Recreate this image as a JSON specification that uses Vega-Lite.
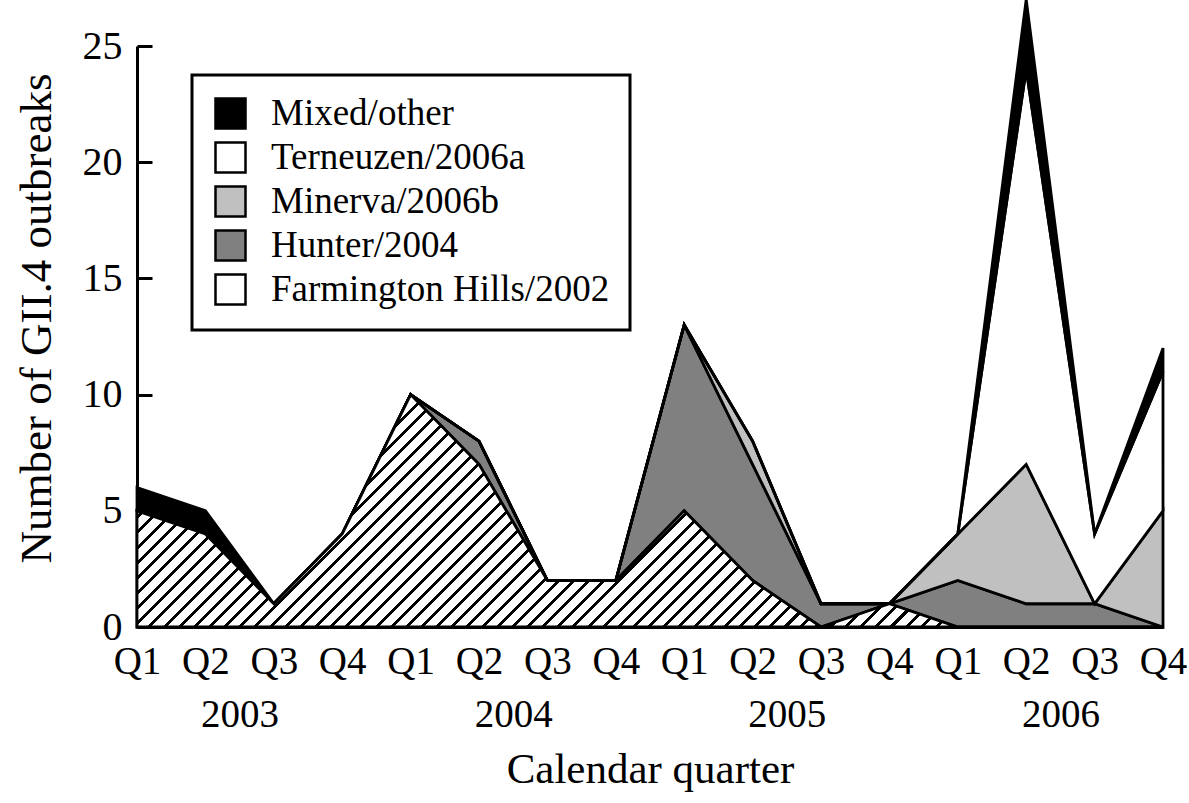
{
  "$schema": "https://vega.github.io/schema/vega-lite/v6.json",
  "width": 1026,
  "height": 581,
  "autosize": {"type": "none"},
  "padding": {"left": 137, "top": 46, "right": 26, "bottom": 176},
  "background": "white",
  "config": {"view": {"stroke": null}, "font": "Liberation Serif"},
  "data": {
    "values": [
      {"t": 2003.0, "s": "Farmington Hills/2002", "k": 1, "n": 5},
      {"t": 2003.25, "s": "Farmington Hills/2002", "k": 1, "n": 4},
      {"t": 2003.5, "s": "Farmington Hills/2002", "k": 1, "n": 1},
      {"t": 2003.75, "s": "Farmington Hills/2002", "k": 1, "n": 4},
      {"t": 2004.0, "s": "Farmington Hills/2002", "k": 1, "n": 10},
      {"t": 2004.25, "s": "Farmington Hills/2002", "k": 1, "n": 7},
      {"t": 2004.5, "s": "Farmington Hills/2002", "k": 1, "n": 2},
      {"t": 2004.75, "s": "Farmington Hills/2002", "k": 1, "n": 2},
      {"t": 2005.0, "s": "Farmington Hills/2002", "k": 1, "n": 5},
      {"t": 2005.25, "s": "Farmington Hills/2002", "k": 1, "n": 2},
      {"t": 2005.5, "s": "Farmington Hills/2002", "k": 1, "n": 0},
      {"t": 2005.75, "s": "Farmington Hills/2002", "k": 1, "n": 1},
      {"t": 2006.0, "s": "Farmington Hills/2002", "k": 1, "n": 0},
      {"t": 2006.25, "s": "Farmington Hills/2002", "k": 1, "n": 0},
      {"t": 2006.5, "s": "Farmington Hills/2002", "k": 1, "n": 0},
      {"t": 2006.75, "s": "Farmington Hills/2002", "k": 1, "n": 0},
      {"t": 2003.0, "s": "Hunter/2004", "k": 2, "n": 0},
      {"t": 2003.25, "s": "Hunter/2004", "k": 2, "n": 0},
      {"t": 2003.5, "s": "Hunter/2004", "k": 2, "n": 0},
      {"t": 2003.75, "s": "Hunter/2004", "k": 2, "n": 0},
      {"t": 2004.0, "s": "Hunter/2004", "k": 2, "n": 0},
      {"t": 2004.25, "s": "Hunter/2004", "k": 2, "n": 1},
      {"t": 2004.5, "s": "Hunter/2004", "k": 2, "n": 0},
      {"t": 2004.75, "s": "Hunter/2004", "k": 2, "n": 0},
      {"t": 2005.0, "s": "Hunter/2004", "k": 2, "n": 8},
      {"t": 2005.25, "s": "Hunter/2004", "k": 2, "n": 5},
      {"t": 2005.5, "s": "Hunter/2004", "k": 2, "n": 1},
      {"t": 2005.75, "s": "Hunter/2004", "k": 2, "n": 0},
      {"t": 2006.0, "s": "Hunter/2004", "k": 2, "n": 2},
      {"t": 2006.25, "s": "Hunter/2004", "k": 2, "n": 1},
      {"t": 2006.5, "s": "Hunter/2004", "k": 2, "n": 1},
      {"t": 2006.75, "s": "Hunter/2004", "k": 2, "n": 0},
      {"t": 2003.0, "s": "Minerva/2006b", "k": 3, "n": 0},
      {"t": 2003.25, "s": "Minerva/2006b", "k": 3, "n": 0},
      {"t": 2003.5, "s": "Minerva/2006b", "k": 3, "n": 0},
      {"t": 2003.75, "s": "Minerva/2006b", "k": 3, "n": 0},
      {"t": 2004.0, "s": "Minerva/2006b", "k": 3, "n": 0},
      {"t": 2004.25, "s": "Minerva/2006b", "k": 3, "n": 0},
      {"t": 2004.5, "s": "Minerva/2006b", "k": 3, "n": 0},
      {"t": 2004.75, "s": "Minerva/2006b", "k": 3, "n": 0},
      {"t": 2005.0, "s": "Minerva/2006b", "k": 3, "n": 0},
      {"t": 2005.25, "s": "Minerva/2006b", "k": 3, "n": 1},
      {"t": 2005.5, "s": "Minerva/2006b", "k": 3, "n": 0},
      {"t": 2005.75, "s": "Minerva/2006b", "k": 3, "n": 0},
      {"t": 2006.0, "s": "Minerva/2006b", "k": 3, "n": 2},
      {"t": 2006.25, "s": "Minerva/2006b", "k": 3, "n": 6},
      {"t": 2006.5, "s": "Minerva/2006b", "k": 3, "n": 0},
      {"t": 2006.75, "s": "Minerva/2006b", "k": 3, "n": 5},
      {"t": 2003.0, "s": "Terneuzen/2006a", "k": 4, "n": 0},
      {"t": 2003.25, "s": "Terneuzen/2006a", "k": 4, "n": 0},
      {"t": 2003.5, "s": "Terneuzen/2006a", "k": 4, "n": 0},
      {"t": 2003.75, "s": "Terneuzen/2006a", "k": 4, "n": 0},
      {"t": 2004.0, "s": "Terneuzen/2006a", "k": 4, "n": 0},
      {"t": 2004.25, "s": "Terneuzen/2006a", "k": 4, "n": 0},
      {"t": 2004.5, "s": "Terneuzen/2006a", "k": 4, "n": 0},
      {"t": 2004.75, "s": "Terneuzen/2006a", "k": 4, "n": 0},
      {"t": 2005.0, "s": "Terneuzen/2006a", "k": 4, "n": 0},
      {"t": 2005.25, "s": "Terneuzen/2006a", "k": 4, "n": 0},
      {"t": 2005.5, "s": "Terneuzen/2006a", "k": 4, "n": 0},
      {"t": 2005.75, "s": "Terneuzen/2006a", "k": 4, "n": 0},
      {"t": 2006.0, "s": "Terneuzen/2006a", "k": 4, "n": 0},
      {"t": 2006.25, "s": "Terneuzen/2006a", "k": 4, "n": 17},
      {"t": 2006.5, "s": "Terneuzen/2006a", "k": 4, "n": 3},
      {"t": 2006.75, "s": "Terneuzen/2006a", "k": 4, "n": 6},
      {"t": 2003.0, "s": "Mixed/other", "k": 5, "n": 1},
      {"t": 2003.25, "s": "Mixed/other", "k": 5, "n": 1},
      {"t": 2003.5, "s": "Mixed/other", "k": 5, "n": 0},
      {"t": 2003.75, "s": "Mixed/other", "k": 5, "n": 0},
      {"t": 2004.0, "s": "Mixed/other", "k": 5, "n": 0},
      {"t": 2004.25, "s": "Mixed/other", "k": 5, "n": 0},
      {"t": 2004.5, "s": "Mixed/other", "k": 5, "n": 0},
      {"t": 2004.75, "s": "Mixed/other", "k": 5, "n": 0},
      {"t": 2005.0, "s": "Mixed/other", "k": 5, "n": 0},
      {"t": 2005.25, "s": "Mixed/other", "k": 5, "n": 0},
      {"t": 2005.5, "s": "Mixed/other", "k": 5, "n": 0},
      {"t": 2005.75, "s": "Mixed/other", "k": 5, "n": 0},
      {"t": 2006.0, "s": "Mixed/other", "k": 5, "n": 0},
      {"t": 2006.25, "s": "Mixed/other", "k": 5, "n": 3},
      {"t": 2006.5, "s": "Mixed/other", "k": 5, "n": 0},
      {"t": 2006.75, "s": "Mixed/other", "k": 5, "n": 1}
    ]
  },
  "resolve": {"axis": {"x": "independent", "y": "independent"}},
  "layer": [
    {
      "mark": {"type": "area", "stroke": "black", "strokeWidth": 2.8, "clip": false, "strokeJoin": "miter"},
      "encoding": {
        "x": {
          "field": "t", "type": "quantitative",
          "scale": {"domain": [2003, 2006.75], "nice": false, "zero": false},
          "axis": {
            "orient": "bottom",
            "values": [2003, 2003.25, 2003.5, 2003.75, 2004, 2004.25, 2004.5, 2004.75, 2005, 2005.25, 2005.5, 2005.75, 2006, 2006.25, 2006.5, 2006.75],
            "labelExpr": "'Q' + (round((datum.value - floor(datum.value)) * 4) + 1)",
            "ticks": false, "grid": false,
            "domainColor": "black", "domainWidth": 3,
            "labelFont": "Liberation Serif", "labelFontSize": 39, "labelColor": "black",
            "labelPadding": 15, "labelFlush": false, "labelOverlap": false, "labelBaseline": "top",
            "title": null
          }
        },
        "y": {
          "field": "n", "type": "quantitative", "stack": "zero",
          "scale": {"domain": [0, 25], "nice": false},
          "axis": {
            "orient": "left",
            "values": [0, 5, 10, 15, 20, 25],
            "grid": false,
            "tickSize": -15, "tickWidth": 3, "tickColor": "black",
            "domainColor": "black", "domainWidth": 3,
            "labelFont": "Liberation Serif", "labelFontSize": 40, "labelColor": "black",
            "labelPadding": 30, "labelBaseline": "middle",
            "title": "Number of GII.4 outbreaks",
            "titleFont": "Liberation Serif", "titleFontSize": 45, "titleFontWeight": "normal", "titleColor": "black",
            "titleAngle": -90, "titleAlign": "center", "titleBaseline": "middle",
            "titleX": -101, "titleY": 272
          }
        },
        "order": {"field": "k", "type": "quantitative"},
        "fill": {
          "field": "s", "type": "nominal",
          "scale": {
            "domain": ["Mixed/other", "Terneuzen/2006a", "Minerva/2006b", "Hunter/2004", "Farmington Hills/2002"],
            "range": ["#000000", "#ffffff", "#c0c0c0", "#808080", "#ffffff"]
          },
          "legend": {
            "orient": "none", "legendX": 55, "legendY": 29, "title": null,
            "fillColor": "white", "strokeColor": "black", "padding": 20,
            "symbolType": "square", "symbolSize": 900, "symbolStrokeColor": "black", "symbolStrokeWidth": 2.5,
            "labelFont": "Liberation Serif", "labelFontSize": 37, "labelColor": "black",
            "labelOffset": 22, "labelLimit": 1000, "rowPadding": 3,
            "encode": {
              "legend": {"update": {"strokeWidth": {"value": 3}}},
              "symbols": {"update": {
                "stroke": {"value": "black"},
                "strokeWidth": {"value": 2.5}
              }}
            }
          }
        }
      }
    },
    {
      "transform": [{"filter": "datum.s === 'Farmington Hills/2002'"}],
      "mark": {"type": "area", "stroke": "black", "strokeWidth": 2.8, "clip": false, "strokeJoin": "miter",
        "fill": {"gradient": "linear", "x1": 0, "y1": 0, "x2": 1.17, "y2": 0.265, "stops": [
{"offset":0,"color":"#000"},{"offset":0.0032,"color":"#000"},{"offset":0.0032,"color":"#fff"},{"offset":0.012,"color":"#fff"},
{"offset":0.012,"color":"#000"},{"offset":0.0152,"color":"#000"},{"offset":0.0152,"color":"#fff"},{"offset":0.024,"color":"#fff"},
{"offset":0.024,"color":"#000"},{"offset":0.0272,"color":"#000"},{"offset":0.0272,"color":"#fff"},{"offset":0.036,"color":"#fff"},
{"offset":0.036,"color":"#000"},{"offset":0.0392,"color":"#000"},{"offset":0.0392,"color":"#fff"},{"offset":0.048,"color":"#fff"},
{"offset":0.048,"color":"#000"},{"offset":0.0512,"color":"#000"},{"offset":0.0512,"color":"#fff"},{"offset":0.06,"color":"#fff"},
{"offset":0.06,"color":"#000"},{"offset":0.0632,"color":"#000"},{"offset":0.0632,"color":"#fff"},{"offset":0.072,"color":"#fff"},
{"offset":0.072,"color":"#000"},{"offset":0.0752,"color":"#000"},{"offset":0.0752,"color":"#fff"},{"offset":0.084,"color":"#fff"},
{"offset":0.084,"color":"#000"},{"offset":0.0872,"color":"#000"},{"offset":0.0872,"color":"#fff"},{"offset":0.096,"color":"#fff"},
{"offset":0.096,"color":"#000"},{"offset":0.0992,"color":"#000"},{"offset":0.0992,"color":"#fff"},{"offset":0.108,"color":"#fff"},
{"offset":0.108,"color":"#000"},{"offset":0.1112,"color":"#000"},{"offset":0.1112,"color":"#fff"},{"offset":0.12,"color":"#fff"},
{"offset":0.12,"color":"#000"},{"offset":0.1232,"color":"#000"},{"offset":0.1232,"color":"#fff"},{"offset":0.132,"color":"#fff"},
{"offset":0.132,"color":"#000"},{"offset":0.1352,"color":"#000"},{"offset":0.1352,"color":"#fff"},{"offset":0.144,"color":"#fff"},
{"offset":0.144,"color":"#000"},{"offset":0.1472,"color":"#000"},{"offset":0.1472,"color":"#fff"},{"offset":0.156,"color":"#fff"},
{"offset":0.156,"color":"#000"},{"offset":0.1592,"color":"#000"},{"offset":0.1592,"color":"#fff"},{"offset":0.168,"color":"#fff"},
{"offset":0.168,"color":"#000"},{"offset":0.1712,"color":"#000"},{"offset":0.1712,"color":"#fff"},{"offset":0.18,"color":"#fff"},
{"offset":0.18,"color":"#000"},{"offset":0.1832,"color":"#000"},{"offset":0.1832,"color":"#fff"},{"offset":0.192,"color":"#fff"},
{"offset":0.192,"color":"#000"},{"offset":0.1952,"color":"#000"},{"offset":0.1952,"color":"#fff"},{"offset":0.204,"color":"#fff"},
{"offset":0.204,"color":"#000"},{"offset":0.2072,"color":"#000"},{"offset":0.2072,"color":"#fff"},{"offset":0.216,"color":"#fff"},
{"offset":0.216,"color":"#000"},{"offset":0.2192,"color":"#000"},{"offset":0.2192,"color":"#fff"},{"offset":0.228,"color":"#fff"},
{"offset":0.228,"color":"#000"},{"offset":0.2312,"color":"#000"},{"offset":0.2312,"color":"#fff"},{"offset":0.24,"color":"#fff"},
{"offset":0.24,"color":"#000"},{"offset":0.2432,"color":"#000"},{"offset":0.2432,"color":"#fff"},{"offset":0.252,"color":"#fff"},
{"offset":0.252,"color":"#000"},{"offset":0.2552,"color":"#000"},{"offset":0.2552,"color":"#fff"},{"offset":0.264,"color":"#fff"},
{"offset":0.264,"color":"#000"},{"offset":0.2672,"color":"#000"},{"offset":0.2672,"color":"#fff"},{"offset":0.276,"color":"#fff"},
{"offset":0.276,"color":"#000"},{"offset":0.2792,"color":"#000"},{"offset":0.2792,"color":"#fff"},{"offset":0.288,"color":"#fff"},
{"offset":0.288,"color":"#000"},{"offset":0.2912,"color":"#000"},{"offset":0.2912,"color":"#fff"},{"offset":0.3,"color":"#fff"},
{"offset":0.3,"color":"#000"},{"offset":0.3032,"color":"#000"},{"offset":0.3032,"color":"#fff"},{"offset":0.312,"color":"#fff"},
{"offset":0.312,"color":"#000"},{"offset":0.3152,"color":"#000"},{"offset":0.3152,"color":"#fff"},{"offset":0.324,"color":"#fff"},
{"offset":0.324,"color":"#000"},{"offset":0.3272,"color":"#000"},{"offset":0.3272,"color":"#fff"},{"offset":0.336,"color":"#fff"},
{"offset":0.336,"color":"#000"},{"offset":0.3392,"color":"#000"},{"offset":0.3392,"color":"#fff"},{"offset":0.348,"color":"#fff"},
{"offset":0.348,"color":"#000"},{"offset":0.3512,"color":"#000"},{"offset":0.3512,"color":"#fff"},{"offset":0.36,"color":"#fff"},
{"offset":0.36,"color":"#000"},{"offset":0.3632,"color":"#000"},{"offset":0.3632,"color":"#fff"},{"offset":0.372,"color":"#fff"},
{"offset":0.372,"color":"#000"},{"offset":0.3752,"color":"#000"},{"offset":0.3752,"color":"#fff"},{"offset":0.384,"color":"#fff"},
{"offset":0.384,"color":"#000"},{"offset":0.3872,"color":"#000"},{"offset":0.3872,"color":"#fff"},{"offset":0.396,"color":"#fff"},
{"offset":0.396,"color":"#000"},{"offset":0.3992,"color":"#000"},{"offset":0.3992,"color":"#fff"},{"offset":0.408,"color":"#fff"},
{"offset":0.408,"color":"#000"},{"offset":0.4112,"color":"#000"},{"offset":0.4112,"color":"#fff"},{"offset":0.42,"color":"#fff"},
{"offset":0.42,"color":"#000"},{"offset":0.4232,"color":"#000"},{"offset":0.4232,"color":"#fff"},{"offset":0.432,"color":"#fff"},
{"offset":0.432,"color":"#000"},{"offset":0.4352,"color":"#000"},{"offset":0.4352,"color":"#fff"},{"offset":0.444,"color":"#fff"},
{"offset":0.444,"color":"#000"},{"offset":0.4472,"color":"#000"},{"offset":0.4472,"color":"#fff"},{"offset":0.456,"color":"#fff"},
{"offset":0.456,"color":"#000"},{"offset":0.4592,"color":"#000"},{"offset":0.4592,"color":"#fff"},{"offset":0.468,"color":"#fff"},
{"offset":0.468,"color":"#000"},{"offset":0.4712,"color":"#000"},{"offset":0.4712,"color":"#fff"},{"offset":0.48,"color":"#fff"},
{"offset":0.48,"color":"#000"},{"offset":0.4832,"color":"#000"},{"offset":0.4832,"color":"#fff"},{"offset":0.492,"color":"#fff"},
{"offset":0.492,"color":"#000"},{"offset":0.4952,"color":"#000"},{"offset":0.4952,"color":"#fff"},{"offset":0.504,"color":"#fff"},
{"offset":0.504,"color":"#000"},{"offset":0.5072,"color":"#000"},{"offset":0.5072,"color":"#fff"},{"offset":0.516,"color":"#fff"},
{"offset":0.516,"color":"#000"},{"offset":0.5192,"color":"#000"},{"offset":0.5192,"color":"#fff"},{"offset":0.528,"color":"#fff"},
{"offset":0.528,"color":"#000"},{"offset":0.5312,"color":"#000"},{"offset":0.5312,"color":"#fff"},{"offset":0.54,"color":"#fff"},
{"offset":0.54,"color":"#000"},{"offset":0.5432,"color":"#000"},{"offset":0.5432,"color":"#fff"},{"offset":0.552,"color":"#fff"},
{"offset":0.552,"color":"#000"},{"offset":0.5552,"color":"#000"},{"offset":0.5552,"color":"#fff"},{"offset":0.564,"color":"#fff"},
{"offset":0.564,"color":"#000"},{"offset":0.5672,"color":"#000"},{"offset":0.5672,"color":"#fff"},{"offset":0.576,"color":"#fff"},
{"offset":0.576,"color":"#000"},{"offset":0.5792,"color":"#000"},{"offset":0.5792,"color":"#fff"},{"offset":0.588,"color":"#fff"},
{"offset":0.588,"color":"#000"},{"offset":0.5912,"color":"#000"},{"offset":0.5912,"color":"#fff"},{"offset":0.6,"color":"#fff"},
{"offset":0.6,"color":"#000"},{"offset":0.6032,"color":"#000"},{"offset":0.6032,"color":"#fff"},{"offset":0.612,"color":"#fff"},
{"offset":0.612,"color":"#000"},{"offset":0.6152,"color":"#000"},{"offset":0.6152,"color":"#fff"},{"offset":0.624,"color":"#fff"},
{"offset":0.624,"color":"#000"},{"offset":0.6272,"color":"#000"},{"offset":0.6272,"color":"#fff"},{"offset":0.636,"color":"#fff"},
{"offset":0.636,"color":"#000"},{"offset":0.6392,"color":"#000"},{"offset":0.6392,"color":"#fff"},{"offset":0.648,"color":"#fff"},
{"offset":0.648,"color":"#000"},{"offset":0.6512,"color":"#000"},{"offset":0.6512,"color":"#fff"},{"offset":0.66,"color":"#fff"},
{"offset":0.66,"color":"#000"},{"offset":0.6632,"color":"#000"},{"offset":0.6632,"color":"#fff"},{"offset":0.672,"color":"#fff"},
{"offset":0.672,"color":"#000"},{"offset":0.6752,"color":"#000"},{"offset":0.6752,"color":"#fff"},{"offset":0.684,"color":"#fff"},
{"offset":0.684,"color":"#000"},{"offset":0.6872,"color":"#000"},{"offset":0.6872,"color":"#fff"},{"offset":0.696,"color":"#fff"},
{"offset":0.696,"color":"#000"},{"offset":0.6992,"color":"#000"},{"offset":0.6992,"color":"#fff"},{"offset":0.708,"color":"#fff"},
{"offset":0.708,"color":"#000"},{"offset":0.7112,"color":"#000"},{"offset":0.7112,"color":"#fff"},{"offset":0.72,"color":"#fff"},
{"offset":0.72,"color":"#000"},{"offset":0.7232,"color":"#000"},{"offset":0.7232,"color":"#fff"},{"offset":0.732,"color":"#fff"},
{"offset":0.732,"color":"#000"},{"offset":0.7352,"color":"#000"},{"offset":0.7352,"color":"#fff"},{"offset":0.744,"color":"#fff"},
{"offset":0.744,"color":"#000"},{"offset":0.7472,"color":"#000"},{"offset":0.7472,"color":"#fff"},{"offset":0.756,"color":"#fff"},
{"offset":0.756,"color":"#000"},{"offset":0.7592,"color":"#000"},{"offset":0.7592,"color":"#fff"},{"offset":0.768,"color":"#fff"},
{"offset":0.768,"color":"#000"},{"offset":0.7712,"color":"#000"},{"offset":0.7712,"color":"#fff"},{"offset":0.78,"color":"#fff"},
{"offset":0.78,"color":"#000"},{"offset":0.7832,"color":"#000"},{"offset":0.7832,"color":"#fff"},{"offset":0.792,"color":"#fff"},
{"offset":0.792,"color":"#000"},{"offset":0.7952,"color":"#000"},{"offset":0.7952,"color":"#fff"},{"offset":0.804,"color":"#fff"},
{"offset":0.804,"color":"#000"},{"offset":0.8072,"color":"#000"},{"offset":0.8072,"color":"#fff"},{"offset":0.816,"color":"#fff"},
{"offset":0.816,"color":"#000"},{"offset":0.8192,"color":"#000"},{"offset":0.8192,"color":"#fff"},{"offset":0.828,"color":"#fff"},
{"offset":0.828,"color":"#000"},{"offset":0.8312,"color":"#000"},{"offset":0.8312,"color":"#fff"},{"offset":0.84,"color":"#fff"},
{"offset":0.84,"color":"#000"},{"offset":0.8432,"color":"#000"},{"offset":0.8432,"color":"#fff"},{"offset":0.852,"color":"#fff"},
{"offset":0.852,"color":"#000"},{"offset":0.8552,"color":"#000"},{"offset":0.8552,"color":"#fff"},{"offset":0.864,"color":"#fff"},
{"offset":0.864,"color":"#000"},{"offset":0.8672,"color":"#000"},{"offset":0.8672,"color":"#fff"},{"offset":0.876,"color":"#fff"},
{"offset":0.876,"color":"#000"},{"offset":0.8792,"color":"#000"},{"offset":0.8792,"color":"#fff"},{"offset":0.888,"color":"#fff"},
{"offset":0.888,"color":"#000"},{"offset":0.8912,"color":"#000"},{"offset":0.8912,"color":"#fff"},{"offset":0.9,"color":"#fff"},
{"offset":0.9,"color":"#000"},{"offset":0.9032,"color":"#000"},{"offset":0.9032,"color":"#fff"},{"offset":0.912,"color":"#fff"},
{"offset":0.912,"color":"#000"},{"offset":0.9152,"color":"#000"},{"offset":0.9152,"color":"#fff"},{"offset":0.924,"color":"#fff"},
{"offset":0.924,"color":"#000"},{"offset":0.9272,"color":"#000"},{"offset":0.9272,"color":"#fff"},{"offset":0.936,"color":"#fff"},
{"offset":0.936,"color":"#000"},{"offset":0.9392,"color":"#000"},{"offset":0.9392,"color":"#fff"},{"offset":0.948,"color":"#fff"},
{"offset":0.948,"color":"#000"},{"offset":0.9512,"color":"#000"},{"offset":0.9512,"color":"#fff"},{"offset":0.96,"color":"#fff"},
{"offset":0.96,"color":"#000"},{"offset":0.9632,"color":"#000"},{"offset":0.9632,"color":"#fff"},{"offset":0.972,"color":"#fff"},
{"offset":0.972,"color":"#000"},{"offset":0.9752,"color":"#000"},{"offset":0.9752,"color":"#fff"},{"offset":0.984,"color":"#fff"},
{"offset":0.984,"color":"#000"},{"offset":0.9872,"color":"#000"},{"offset":0.9872,"color":"#fff"},{"offset":0.996,"color":"#fff"},
{"offset":0.996,"color":"#000"},{"offset":0.9992,"color":"#000"},{"offset":0.9992,"color":"#fff"},{"offset":1,"color":"#fff"}
        ]}
      },
      "encoding": {
        "x": {
          "field": "t", "type": "quantitative",
          "axis": {
            "orient": "bottom",
            "values": [2003.375, 2004.375, 2005.375, 2006.375],
            "labelExpr": "'' + floor(datum.value)",
            "ticks": false, "domain": false, "grid": false,
            "labelFont": "Liberation Serif", "labelFontSize": 39, "labelColor": "black",
            "labelPadding": 68, "labelFlush": false, "labelOverlap": false, "labelBaseline": "top",
            "title": "Calendar quarter",
            "titleFont": "Liberation Serif", "titleFontSize": 43, "titleFontWeight": "normal", "titleColor": "black",
            "titleBaseline": "top", "titleY": 121
          }
        },
        "y": {"field": "n", "type": "quantitative", "axis": null}
      }
    }
  ]
}
